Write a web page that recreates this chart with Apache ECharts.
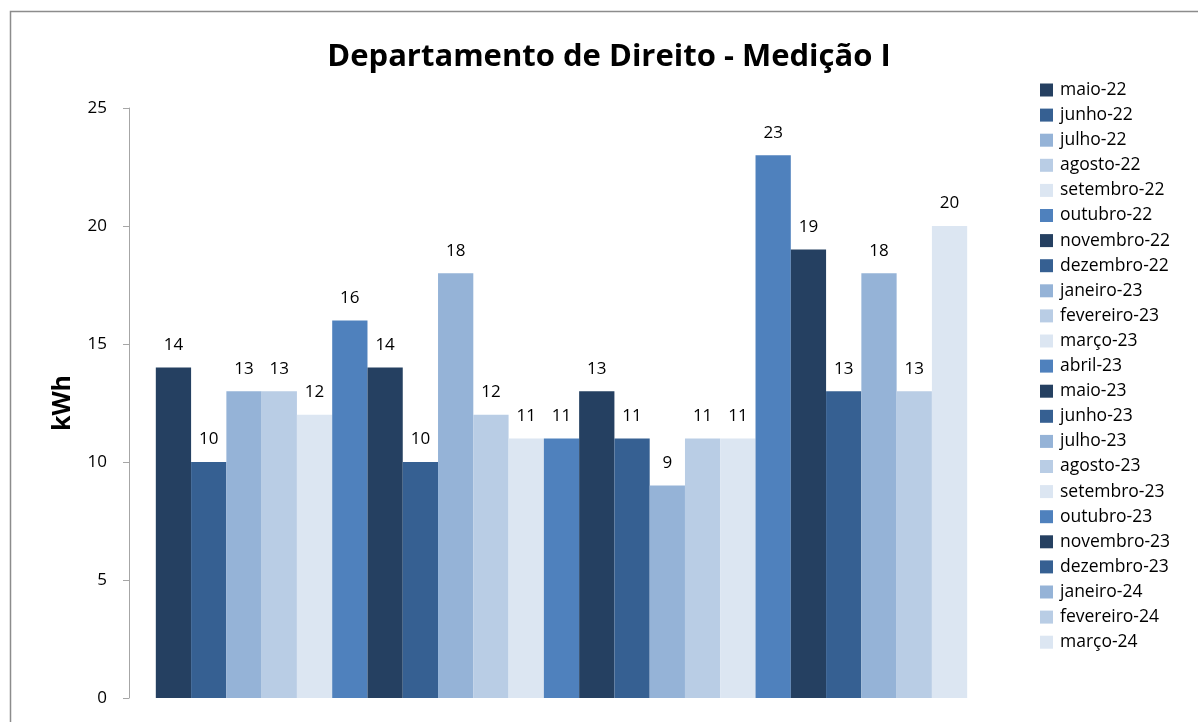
<!DOCTYPE html>
<html><head><meta charset="utf-8">
<script src="https://cdn.jsdelivr.net/npm/echarts@6/dist/echarts.min.js"></script>
<style>html,body{margin:0;padding:0;background:#fff}#c{width:1198px;height:722px}</style>
</head><body><div id="c"></div>
<script>
const titleText = 'Departamento de Direito - Medição I';
const yAxisName = 'kWh';
const months = ['maio-22','junho-22','julho-22','agosto-22','setembro-22','outubro-22','novembro-22','dezembro-22','janeiro-23','fevereiro-23','março-23','abril-23','maio-23','junho-23','julho-23','agosto-23','setembro-23','outubro-23','novembro-23','dezembro-23','janeiro-24','fevereiro-24','março-24'];
const values = [14,10,13,13,12,16,14,10,18,12,11,11,13,11,9,11,11,23,19,13,18,13,20];
const palette = ['#254061','#366092','#95B3D7','#B9CDE5','#DCE6F2','#4F81BD'];
const category = [''];

const FONT = 'Open Sans';
const series = months.map((m, i) => ({
  name: m,
  type: 'bar',
  data: [values[i]],
  barGap: '0%',
  barCategoryGap: '6.2%',
  itemStyle: { color: palette[i % palette.length] },
  label: { show: true, position: 'top', distance: 14, color: '#000', fontFamily: FONT, fontSize: 17 }
}));

const chart = echarts.init(document.getElementById('c'));
chart.setOption({
  animation: false,
  color: palette,
  title: { text: titleText, left: 604, textAlign: 'center', top: 37,
    textStyle: { fontFamily: FONT, fontWeight: 'bold', fontSize: 31, color: '#000' } },
  grid: { left: 129, right: 204, top: 108, bottom: 24 },
  legend: {
    orient: 'vertical', left: 1035, top: 76, itemWidth: 13, itemHeight: 13, itemGap: 7.1,
    icon: 'rect',
    textStyle: { fontFamily: FONT, fontSize: 17.5, color: '#000', padding: [0, 0, 0, 2] }
  },
  xAxis: { type: 'category', data: category, axisLine: { show: false }, axisTick: { show: false }, axisLabel: { show: false } },
  yAxis: {
    type: 'value', min: 0, max: 25, interval: 5,
    name: yAxisName, nameLocation: 'middle', nameGap: 54,
    nameTextStyle: { fontFamily: FONT, fontWeight: 'bold', fontSize: 25, color: '#000' },
    axisLine: { show: true, lineStyle: { color: '#A6A6A6', width: 1 } },
    axisTick: { show: true, length: 6, lineStyle: { color: '#A6A6A6' } },
    axisLabel: { fontFamily: FONT, fontSize: 17, color: '#000', margin: 22 },
    splitLine: { show: false }
  },
  graphic: [{ type: 'rect', left: 8, top: 9, shape: { width: 1300, height: 800 }, style: { fill: 'none', stroke: '#8C8C8C', lineWidth: 1.5 }, silent: true }],
  series
});
</script></body></html>
